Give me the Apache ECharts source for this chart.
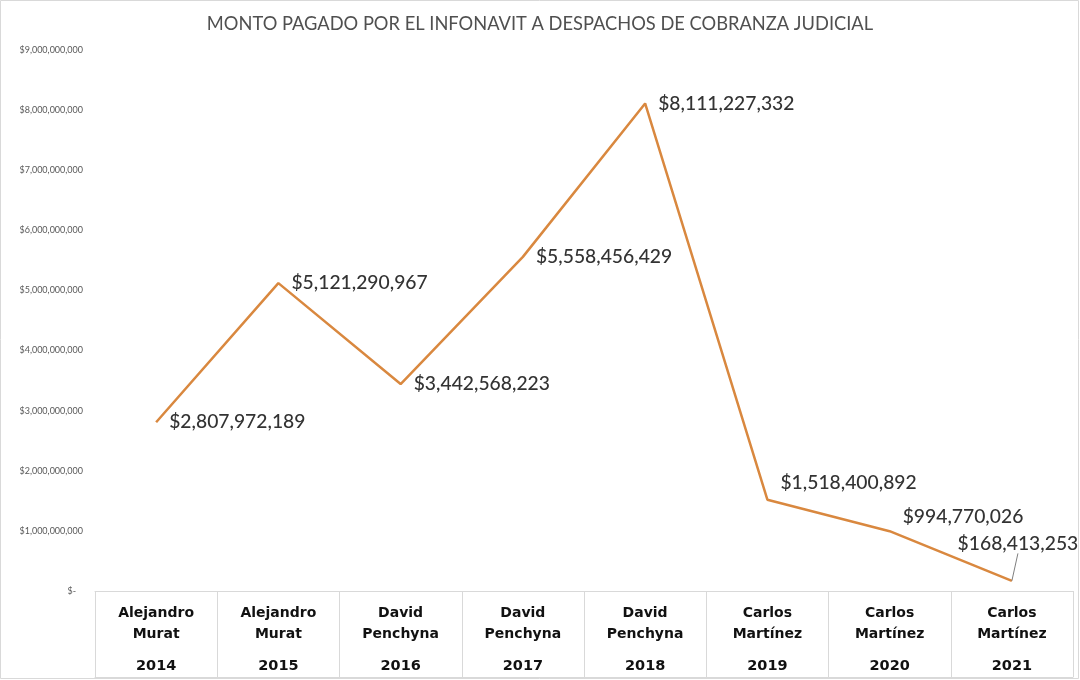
<!DOCTYPE html>
<html>
<head>
<meta charset="utf-8">
<script src="https://cdn.jsdelivr.net/npm/echarts@6/dist/echarts.min.js"></script>
<style>
  html, body { margin: 0; padding: 0; background: #fff; }
  #chart { width: 1080px; height: 680px; }
</style>
</head>
<body>
<div id="chart"></div>
<script>
// datos del gráfico
const years = ['2014', '2015', '2016', '2017', '2018', '2019', '2020', '2021']
const officials = [
  'Alejandro\nMurat', 'Alejandro\nMurat',
  'David\nPenchyna', 'David\nPenchyna', 'David\nPenchyna',
  'Carlos\nMartínez', 'Carlos\nMartínez', 'Carlos\nMartínez'
]
const amounts = [2807972189, 5121290967, 3442568223, 5558456429, 8111227332, 1518400892, 994770026, 168413253]
// desplazamiento vertical de algunas etiquetas (como en el original)
const labelShiftY = [0, 0, 0, 0, 0, -17, -14, 0]

const font = 'Lato, "Open Sans", sans-serif'
const catFont = '"DejaVu Sans", Verdana, sans-serif'

function money(v) {
  return '$' + Number(v).toLocaleString('en-US')
}

const chart = echarts.init(document.getElementById('chart'))

const option = {
  backgroundColor: '#fff',
  textStyle: { fontFamily: font },
  title: {
    text: 'MONTO PAGADO POR EL INFONAVIT A DESPACHOS DE COBRANZA JUDICIAL',
    left: 'center',
    top: 10,
    textStyle: { fontFamily: font, fontSize: 18.3, fontWeight: 'normal', color: '#505050' }
  },
  graphic: [{
    type: 'rect',
    shape: { x: 0.5, y: 0.5, width: 1078, height: 678 },
    style: { fill: 'none', stroke: '#d9d9d9', lineWidth: 1 },
    silent: true
  }],
  grid: { left: 95, right: 7, top: 50, bottom: 89 },
  xAxis: [{
    type: 'category',
    data: years,
    boundaryGap: true,
    axisLine: { lineStyle: { color: '#d9d9d9' } },
    axisTick: { show: true, interval: 0, length: 86, lineStyle: { color: '#d9d9d9' } },
    axisLabel: {
      interval: 0,
      margin: 12,
      formatter: function (v, i) {
        const parts = officials[i].split('\n')
        return parts.map(p => '{n|' + p + '}').join('\n') + '\n{y|' + v + '}'
      },
      rich: {
        n: { fontFamily: catFont, fontSize: 14, fontWeight: 'bold', color: '#111', lineHeight: 21 },
        y: { fontFamily: catFont, fontSize: 14.5, fontWeight: 'bold', color: '#111', lineHeight: 43 }
      }
    }
  }, {
    type: 'category',
    data: years,
    position: 'bottom',
    offset: 86,
    axisLine: { show: true, lineStyle: { color: '#d9d9d9' } },
    axisTick: { show: false },
    axisLabel: { show: false }
  }],
  yAxis: {
    type: 'value',
    min: 0,
    max: 9000000000,
    interval: 1000000000,
    splitLine: { show: false },
    axisLine: { show: false },
    axisTick: { show: false },
    axisLabel: {
      margin: 12,
      fontFamily: font,
      fontSize: 9,
      color: '#595959',
      formatter: v => v === 0 ? '$-   ' : money(v)
    }
  },
  series: [{
    type: 'line',
    data: amounts.map((v, i) => i === amounts.length - 1
      ? { value: v, labelLine: { show: true, lineStyle: { color: '#7f7f7f', width: 1 } } }
      : v),
    symbol: 'circle',
    symbolSize: 0.1,
    lineStyle: { color: '#d9883f', width: 2.5 },
    itemStyle: { color: '#d9883f' },
    label: {
      show: true,
      position: 'right',
      distance: 13,
      fontFamily: font,
      fontSize: 19.3,
      fontWeight: 500,
      color: '#333',
      formatter: p => money(p.value)
    },
    labelLine: { show: false },
    labelLayout: function (p) {
      if (p.dataIndex === amounts.length - 1) {
        return { x: p.labelRect.x - p.labelRect.width / 2 - 7, y: p.labelRect.y - 37, align: 'left' }
      }
      return { dy: labelShiftY[p.dataIndex] }
    },
    animation: false
  }]
}

chart.setOption(option)
</script>
</body>
</html>
